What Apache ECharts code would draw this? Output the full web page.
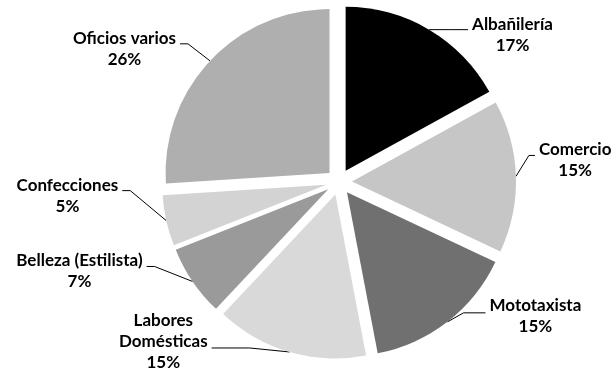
<!DOCTYPE html>
<html>
<head>
<meta charset="utf-8">
<script src="https://cdn.jsdelivr.net/npm/echarts@6/dist/echarts.min.js"></script>
<style>
  html, body { margin: 0; padding: 0; background: #fff; }
  #chart { width: 615px; height: 369px; }
</style>
</head>
<body>
<div id="chart"></div>
<script>
// ocupaciones, en orden horario desde las 12
const categories = ['Albañilería', 'Comercio', 'Mototaxista', 'Labores\nDomésticas', 'Belleza (Estilista)', 'Confecciones', 'Oficios varios'];
const percents = [17, 15, 15, 15, 7, 5, 26];
const sliceColors = ['#000000', '#c6c6c6', '#707070', '#d9d9d9', '#9a9a9a', '#d3d3d3', '#afafaf'];

// guía de cada etiqueta: codo [dx, dy] desde el arco, tramo horizontal, ajuste vertical del texto
const leaders = [
  [20, 0, 19, 5],
  [13, -21, 6, 5],
  [16, -9, 22, 3],
  [-40, -4, -38, -6],
  [-38, -15, -8, 5],
  [-36, -30, -8, 5],
  [-22, -17, -8, 5]
];

const CX = 339, CY = 182, R = 164, EXPLODE = 13;
const chart = echarts.init(document.getElementById('chart'), null, { renderer: 'canvas' });

const slices = categories.map((name, i) => ({
  name,
  value: percents[i],
  selected: true,
  itemStyle: { color: sliceColors[i] }
}));
const labelsOnly = categories.map((name, i) => ({ name, value: percents[i] }));

chart.setOption({
  animation: false,
  backgroundColor: '#fff',
  series: [{
    type: 'pie',
    center: [CX, CY],
    radius: R,
    startAngle: 90,
    clockwise: true,
    selectedMode: 'multiple',
    selectedOffset: EXPLODE,
    data: slices,
    emphasis: { disabled: true },
    label: { show: false },
    labelLine: { show: false }
  }, {
    // capa de etiquetas (mismo círculo, sin relleno)
    type: 'pie',
    center: [CX, CY],
    radius: R,
    startAngle: 90,
    clockwise: true,
    silent: true,
    avoidLabelOverlap: false,
    data: labelsOnly,
    itemStyle: { color: 'rgba(0,0,0,0)' },
    emphasis: { disabled: true },
    label: {
      show: true,
      position: 'outside',
      formatter: '{b}\n{c}%',
      color: '#000',
      fontFamily: 'Lato',
      fontWeight: 'bold',
      fontSize: 17,
      lineHeight: 21
    },
    labelLine: {
      show: true,
      length: 10,
      length2: 10,
      lineStyle: { color: '#000', width: 1 }
    },
    labelLayout: function (p) {
      const pts = p.labelLinePoints;
      if (!pts) return {};
      const g = leaders[p.dataIndex];
      const vx = pts[0][0] - CX, vy = pts[0][1] - CY;
      const len = Math.sqrt(vx * vx + vy * vy) || 1;
      const start = [pts[0][0] + EXPLODE * vx / len, pts[0][1] + EXPLODE * vy / len];
      const bend = [start[0] + g[0], start[1] + g[1]];
      const end = [bend[0] + g[2], bend[1]];
      const dir = g[2] >= 0 ? 1 : -1;
      return {
        x: end[0] + dir * (p.labelRect.width / 2 + 4),
        y: end[1] + g[3],
        align: 'center',
        verticalAlign: 'middle',
        labelLinePoints: [start, bend, end]
      };
    }
  }]
});
</script>
</body>
</html>
